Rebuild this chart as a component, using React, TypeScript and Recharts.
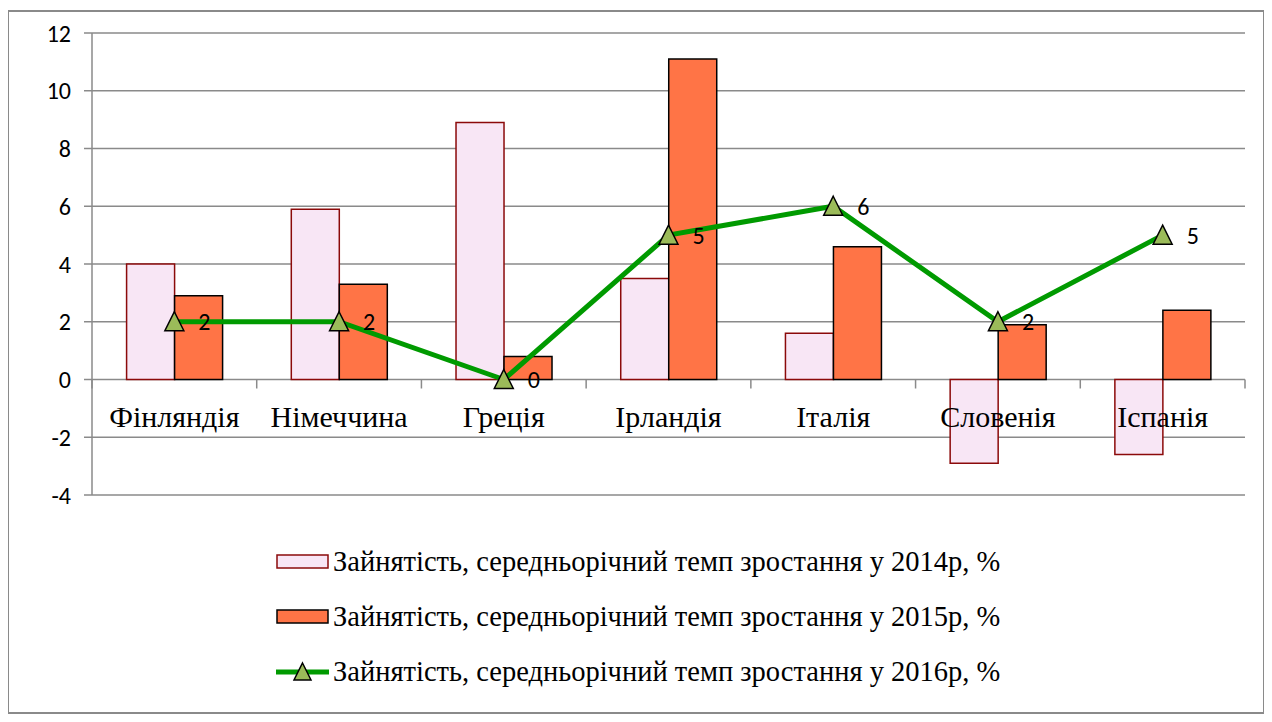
import React from 'react'
import {
  ComposedChart,
  Bar,
  Line,
  XAxis,
  YAxis,
  CartesianGrid,
  LabelList,
} from 'recharts'

const countries = ['Фінляндія', 'Німеччина', 'Греція', 'Ірландія', 'Італія', 'Словенія', 'Іспанія']
const growth2014 = [4.0, 5.9, 8.9, 3.5, 1.6, -2.9, -2.6]
const growth2015 = [2.9, 3.3, 0.8, 11.1, 4.6, 1.9, 2.4]
const growth2016 = [2, 2, 0, 5, 6, 2, 5]
const yTicks = [-4, -2, 0, 2, 4, 6, 8, 10, 12]

const seriesNames = [
  'Зайнятість, середньорічний темп зростання у 2014р, %',
  'Зайнятість, середньорічний темп зростання у 2015р, %',
  'Зайнятість, середньорічний темп зростання у 2016р, %',
]

const data = countries.map((name, i) => ({
  name,
  y2014: growth2014[i],
  y2015: growth2015[i],
  y2016: growth2016[i],
}))

const W = 1254
const H = 700
const M = { top: 21, right: 18, left: 0, bottom: 187 }
const Y_AXIS_W = 83
const plotW = W - M.right - Y_AXIS_W
const plotH = H - M.top - M.bottom - 30
// x axis sits on the zero line, not at the bottom of the plot
const zeroY = M.top + (12 / 16) * plotH
const band = plotW / countries.length

const gridColor = '#8a8a8a'
const pinkFill = '#F8E6F5'
const pinkStroke = '#8B0A0A'
const orange = '#FF7446'
const green = '#009A00'
const marker = '#9BBB59'
const serif = 'Liberation Serif'
const sans = 'Carlito'

function CategoryTick(props: any) {
  const { x, payload, index } = props
  return (
    <g>
      {index === 0 && (
        <line x1={x - band / 2} x2={x - band / 2} y1={zeroY} y2={zeroY + 9} stroke={gridColor} strokeWidth={1.5} />
      )}
      <line x1={x + band / 2} x2={x + band / 2} y1={zeroY} y2={zeroY + 9} stroke={gridColor} strokeWidth={1.5} />
      <text x={x} y={zeroY + 47} textAnchor="middle" fontFamily={serif} fontSize={30} fill="#000">
        {payload.value}
      </text>
    </g>
  )
}

function Triangle(props: any) {
  const { cx, cy } = props
  if (cx == null || cy == null) return null
  return (
    <path
      d={`M${cx},${cy - 10} L${cx + 9.5},${cy + 9} L${cx - 9.5},${cy + 9} Z`}
      fill={marker}
      stroke="#000"
      strokeWidth={1.5}
    />
  )
}

function LegendBox() {
  const icons = [
    (
      <svg width={56} height={20}>
        <rect x={2} y={3} width={51} height={13} fill={pinkFill} stroke={pinkStroke} strokeWidth={1.5} />
      </svg>
    ),
    (
      <svg width={56} height={20}>
        <rect x={2} y={3} width={51} height={13} fill={orange} stroke="#000" strokeWidth={1.5} />
      </svg>
    ),
    (
      <svg width={56} height={24}>
        <line x1={1} x2={54} y1={12} y2={12} stroke={green} strokeWidth={5} />
        <path d="M27.5,3 L36,20 L19,20 Z" fill={marker} stroke="#000" strokeWidth={1.5} />
      </svg>
    ),
  ]
  return (
    <div style={{ position: 'absolute', left: 266, top: 522 }}>
      {icons.map((icon, i) => (
        <div key={i} style={{ display: 'flex', alignItems: 'center', height: 55, fontSize: 28.5, fontFamily: serif }}>
          {icon}
          <span style={{ marginLeft: 2, whiteSpace: 'nowrap' }}>{seriesNames[i]}</span>
        </div>
      ))}
    </div>
  )
}

export default function App() {
  return (
    <div
      style={{
        position: 'relative',
        width: W,
        height: H,
        border: `2px solid ${gridColor}`,
        marginTop: 2,
        marginLeft: -1,
        background: '#fff',
      }}
    >
      <ComposedChart width={W} height={H} data={data} margin={M} barCategoryGap="21%" barGap={0}>
        <CartesianGrid vertical={false} stroke={gridColor} strokeWidth={1.5} />
        <XAxis
          dataKey="name"
          height={30}
          axisLine={false}
          tickLine={false}
          interval={0}
          tick={<CategoryTick />}
        />
        <YAxis
          width={Y_AXIS_W}
          domain={[-4, 12]}
          ticks={yTicks}
          interval={0}
          stroke={gridColor}
          strokeWidth={1.5}
          tickSize={8}
          tickMargin={13}
          tick={{ fontFamily: sans, fontSize: 24, fill: '#000' }}
        />
        <Bar dataKey="y2014" name={seriesNames[0]} fill={pinkFill} stroke={pinkStroke} strokeWidth={1.5} isAnimationActive={false} />
        <Bar dataKey="y2015" name={seriesNames[1]} fill={orange} stroke="#000" strokeWidth={1.5} isAnimationActive={false} />
        <Line
          type="linear"
          dataKey="y2016"
          name={seriesNames[2]}
          stroke={green}
          strokeWidth={5}
          dot={<Triangle />}
          activeDot={false}
          isAnimationActive={false}
        >
          <LabelList dataKey="y2016" position="right" offset={24} fontFamily={sans} fontSize={24} fill="#000" />
        </Line>
      </ComposedChart>
      <LegendBox />
    </div>
  )
}
